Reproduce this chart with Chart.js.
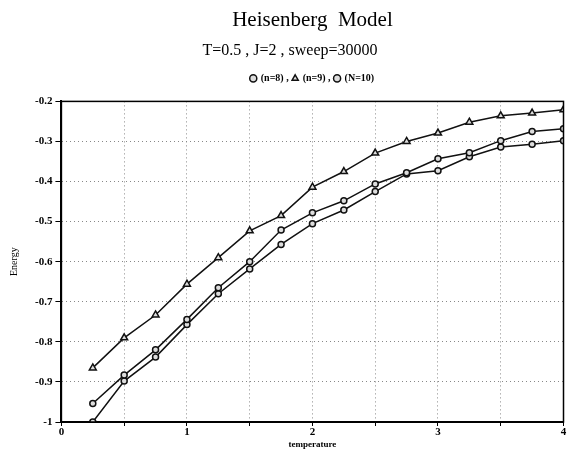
<!DOCTYPE html>
<html>
<head>
<meta charset="utf-8">
<script src="https://cdn.jsdelivr.net/npm/chart.js@4"></script>
<style>
  body { margin: 0; background: #fff; }
  #wrap { width: 569px; height: 449px; }
</style>
</head>
<body>
<div id="wrap"><canvas id="myChart"></canvas></div>
<script>
const temps = [0.25, 0.5, 0.75, 1, 1.25, 1.5, 1.75, 2, 2.25, 2.5, 2.75, 3, 3.25, 3.5, 3.75, 4];
const energyN8 = [-0.954, -0.883, -0.82, -0.744, -0.665, -0.60, -0.521, -0.478, -0.448, -0.406, -0.378, -0.343, -0.328, -0.298, -0.275, -0.268];
const energyN9 = [-0.865, -0.79, -0.733, -0.656, -0.59, -0.523, -0.485, -0.414, -0.375, -0.329, -0.30, -0.279, -0.252, -0.236, -0.229, -0.221];
const energyN10 = [-1.0, -0.898, -0.838, -0.757, -0.68, -0.618, -0.557, -0.505, -0.471, -0.425, -0.381, -0.373, -0.338, -0.314, -0.307, -0.298];
const yTicks = [-0.2, -0.3, -0.4, -0.5, -0.6, -0.7, -0.8, -0.9, -1];

const ctx = document.getElementById('myChart');
const toPts = arr => arr.map((v, i) => ({ x: temps[i], y: v }));

// box around plot area
const frame = {
  id: 'frame',
  afterDraw(chart) {
    const { ctx, chartArea: a } = chart;
    ctx.save();
    ctx.strokeStyle = '#000';
    ctx.lineWidth = 1.5;
    ctx.strokeRect(a.left, a.top, a.right - a.left, a.bottom - a.top);
    ctx.restore();
  }
};

// a bit more room under the legend line
const legendGap = {
  id: 'legendGap',
  beforeInit(chart) {
    const lg = chart.legend;
    const fit = lg.fit;
    lg.fit = function () {
      fit.bind(lg)();
      this.height += 8;
    };
  }
};

const serif = 'Liberation Serif';

new Chart(ctx, {
  type: 'line',
  data: {
    datasets: [{
      label: '(n=8) ,',
      data: toPts(energyN8),
      borderColor: '#111',
      borderWidth: 1.5,
      pointStyle: 'circle',
      pointRadius: 3,
      pointBackgroundColor: '#ddd',
      pointBorderColor: '#111',
      pointBorderWidth: 1.5
    },
    {
      label: '(n=9) ,',
      data: toPts(energyN9),
      borderColor: '#111',
      borderWidth: 1.5,
      pointStyle: 'triangle',
      pointRadius: 4,
      pointBackgroundColor: '#ddd',
      pointBorderColor: '#111',
      pointBorderWidth: 1.5
    },
    {
      label: '(N=10)',
      data: toPts(energyN10),
      borderColor: '#111',
      borderWidth: 1.5,
      pointStyle: 'circle',
      pointRadius: 3,
      pointBackgroundColor: '#ddd',
      pointBorderColor: '#111',
      pointBorderWidth: 1.5
    }]
  },
  options: {
    responsive: true,
    maintainAspectRatio: false,
    animation: false,
    layout: { padding: { left: 8, right: -3, top: 2, bottom: -1 } },
    plugins: {
      title: {
        display: true,
        fullSize: false,
        text: 'Heisenberg  Model',
        color: '#000',
        font: { family: serif, size: 21, weight: 'normal' },
        padding: { top: 6, bottom: 8 }
      },
      subtitle: {
        display: true,
        text: 'T=0.5 , J=2 , sweep=30000',
        color: '#000',
        font: { family: serif, size: 16 },
        padding: { bottom: 9 }
      },
      legend: {
        display: true,
        fullSize: false,
        labels: {
          usePointStyle: true,
          boxWidth: 5,
          boxHeight: 5,
          padding: 4,
          color: '#000',
          font: { family: serif, size: 10, weight: 'bold' }
        }
      },
      tooltip: { enabled: false }
    },
    scales: {
      x: {
        type: 'linear',
        min: 0,
        max: 4,
        afterFit: s => { s.paddingRight = 0; },
        border: { color: '#000', width: 2, dash: [1, 3] },
        ticks: {
          stepSize: 0.5,
          color: '#000',
          font: { family: serif, size: 11, weight: 'bold' },
          maxRotation: 0,
          padding: 0,
          callback: v => Number.isInteger(v) ? v : ''
        },
        grid: {
          color: '#888',
          lineWidth: 1,
          tickLength: 4,
          tickBorderDash: [],
          tickColor: '#000'
        },
        title: {
          display: true,
          text: 'temperature',
          color: '#000',
          font: { family: serif, size: 9, weight: 'bold' },
          padding: { top: 0, bottom: 0 }
        }
      },
      y: {
        min: -1,
        max: -0.2,
        afterBuildTicks: axis => { axis.ticks = yTicks.map(v => ({ value: v })); },
        border: { color: '#000', width: 2, dash: [1, 3] },
        ticks: {
          color: '#000',
          font: { family: serif, size: 11, weight: 'bold' },
          padding: 3,
          callback: v => String(+v.toFixed(1))
        },
        grid: {
          color: '#888',
          lineWidth: 1,
          tickLength: 6,
          tickBorderDash: [],
          tickColor: '#000'
        },
        title: {
          display: true,
          text: 'Energy',
          color: '#000',
          font: { family: serif, size: 10 },
          padding: { top: 0, bottom: 12 }
        }
      }
    }
  },
  plugins: [frame, legendGap]
});
</script>
</body>
</html>
